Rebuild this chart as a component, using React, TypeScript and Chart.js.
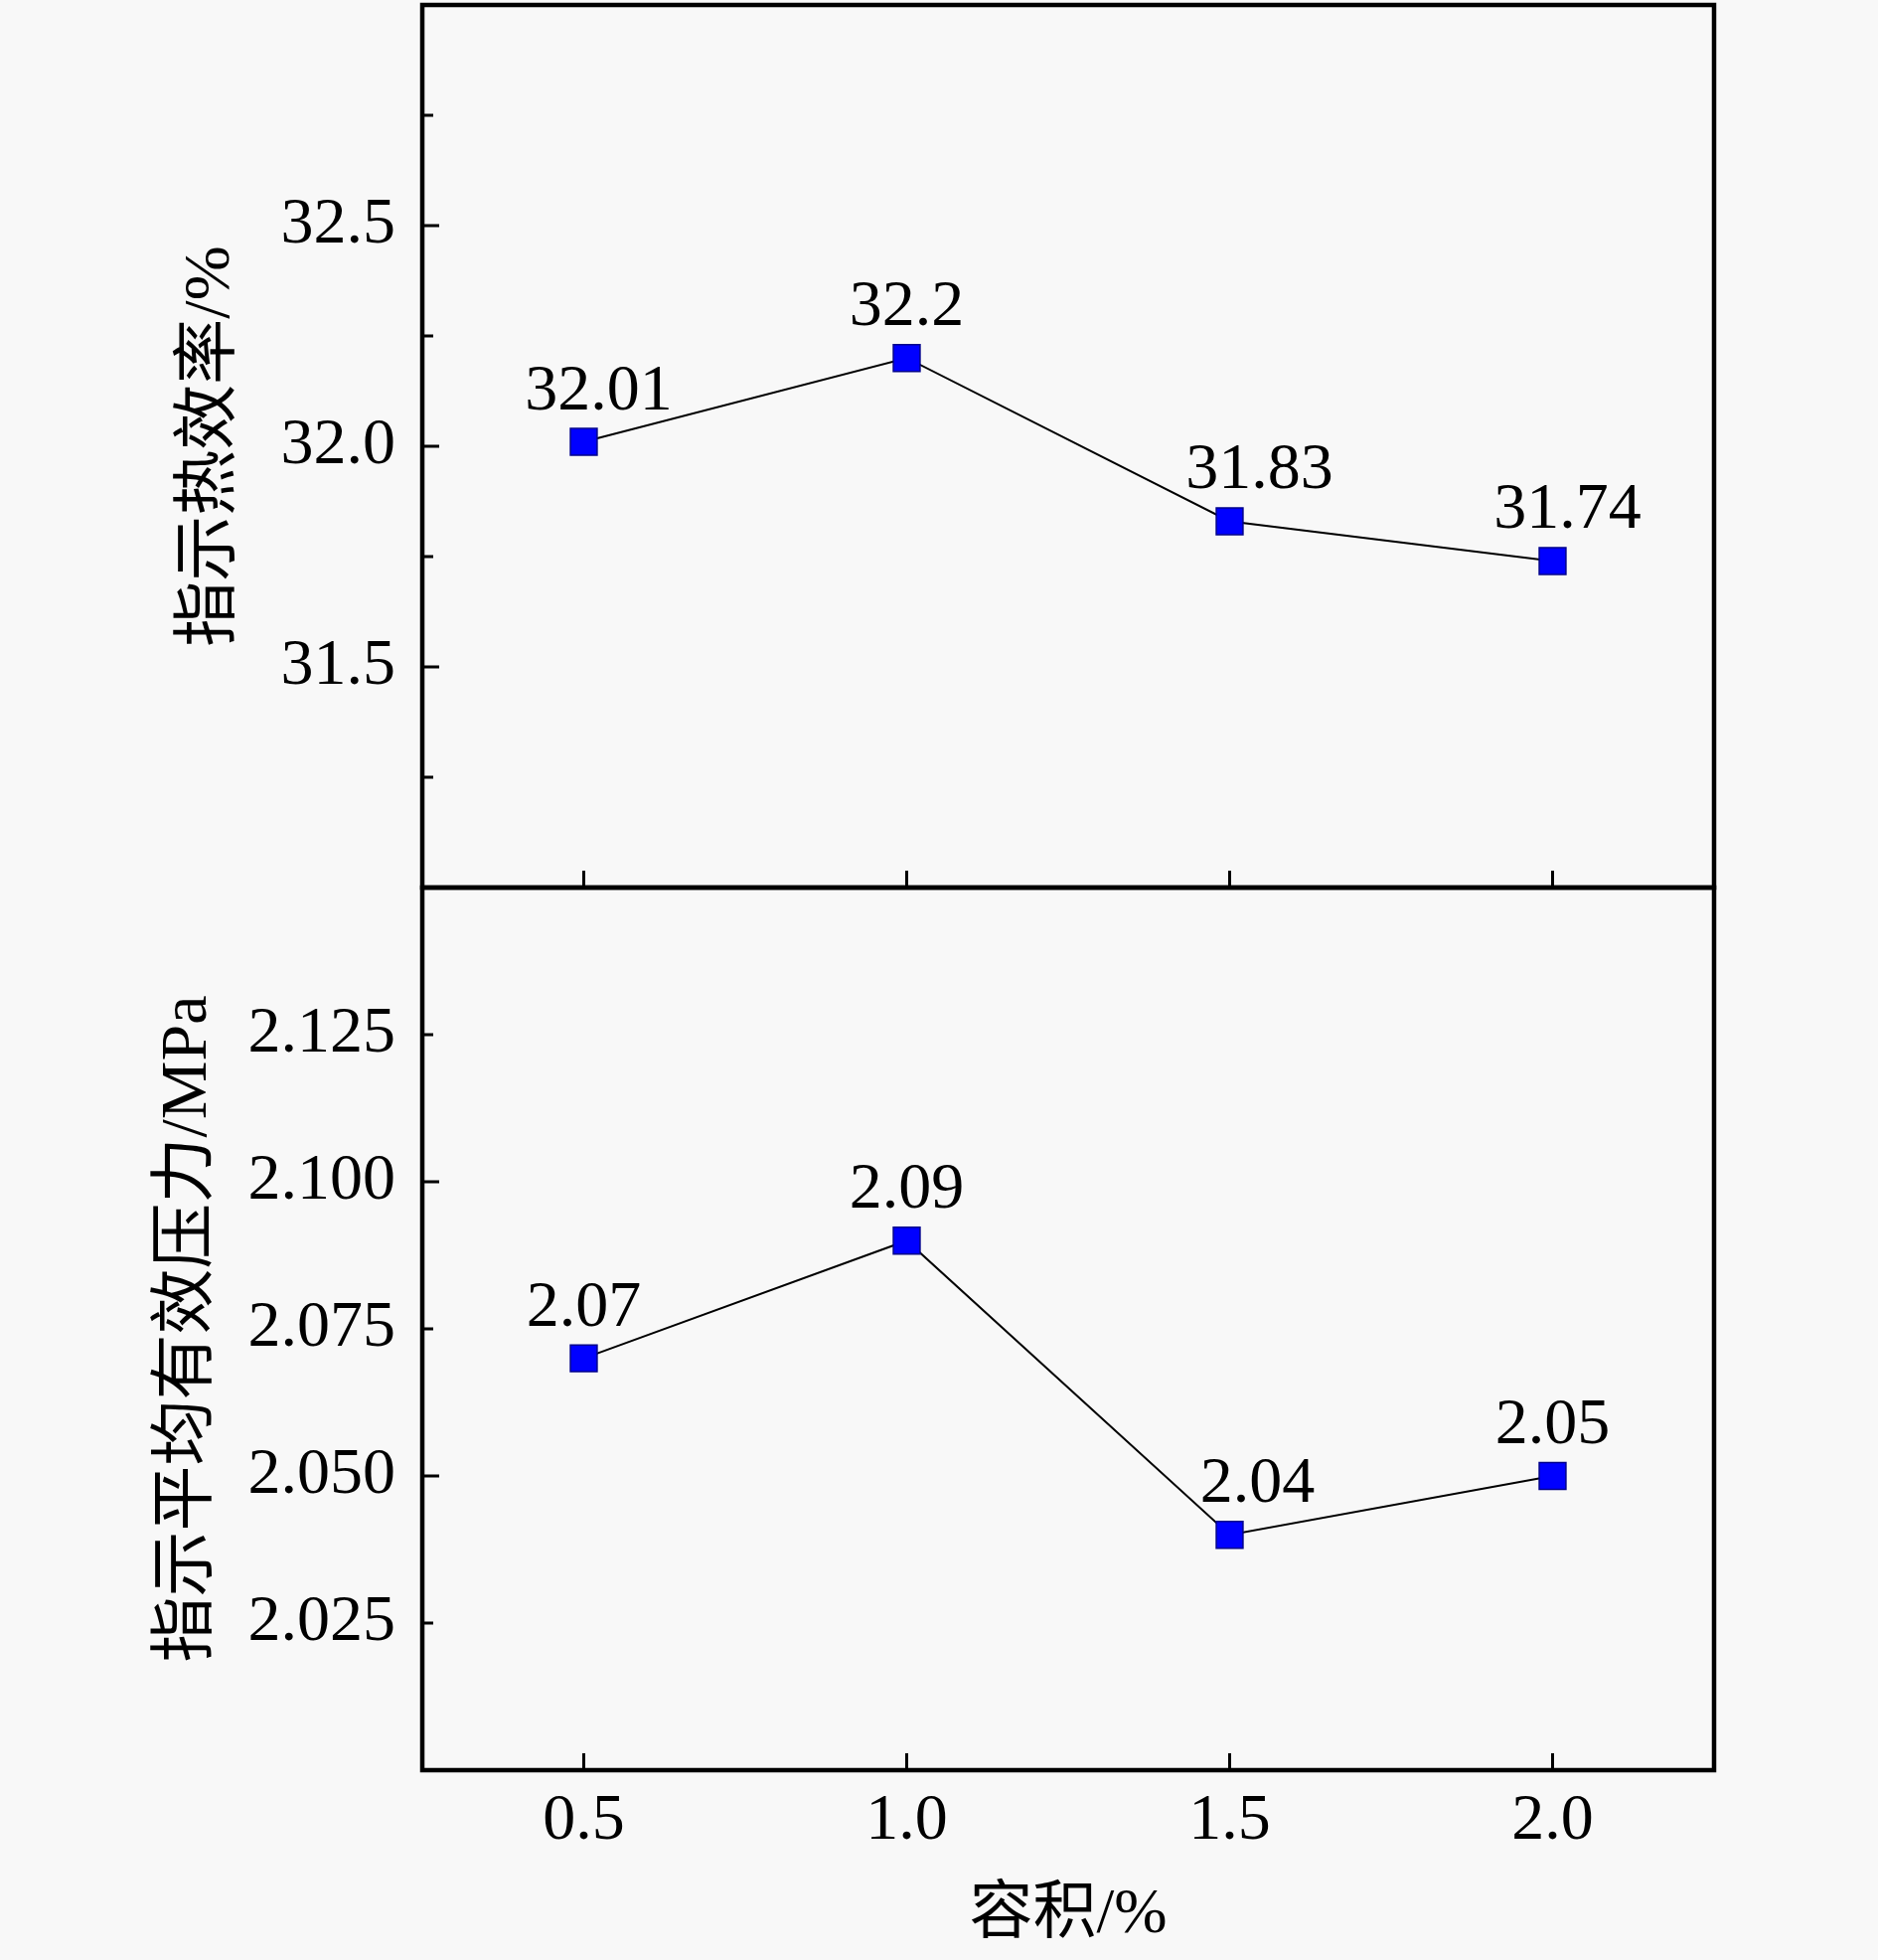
import { useEffect, useRef } from 'react'
import Chart from 'chart.js/auto'

// x: volume share (%)
const volume = [0.5, 1.0, 1.5, 2.0]
// indicated thermal efficiency (%)
const efficiency = [32.01, 32.2, 31.83, 31.74]
// indicated mean effective pressure (MPa)
const pressure = [2.07, 2.09, 2.04, 2.05]

const volumeTicks = [0.5, 1.0, 1.5, 2.0]
const efficiencyTicks = [31.5, 32.0, 32.5]
const efficiencyMajor = [31.5, 32.0, 32.5]
const efficiencyMinor = [31.25, 31.75, 32.25, 32.75]
const pressureTicks = [2.025, 2.05, 2.075, 2.1, 2.125]
const pressureMajor = [2.05, 2.1]
const pressureMinor = [2.025, 2.075, 2.125]

const SERIF = "'Liberation Serif', 'Noto Sans CJK SC', serif"
const W = 1890
const H = 1972
const PLOT_LEFT = 425
const PLOT_RIGHT = 1725
const PLOT_TOP = 5
const PLOT_MID = 893
const PLOT_BOTTOM = 1781
// chart.js keeps room for the point radius at the edges, so the top canvas is pulled up
const SHIFT = 50

// frame + inward tick marks, Origin style
const axisMarks = (major: number[], minor: number[]) => ({
  id: 'axisMarks',
  beforeDatasetsDraw(chart: Chart) {
    const { ctx, chartArea: a, scales } = chart
    const line = (x1: number, y1: number, x2: number, y2: number) => {
      ctx.beginPath()
      ctx.moveTo(x1, y1)
      ctx.lineTo(x2, y2)
      ctx.stroke()
    }
    ctx.save()
    ctx.strokeStyle = '#000'
    ctx.lineWidth = 3
    major.forEach(v => {
      const p = scales.y.getPixelForValue(v)
      line(a.left, p, a.left + 17, p)
    })
    minor.forEach(v => {
      const p = scales.y.getPixelForValue(v)
      line(a.left, p, a.left + 11, p)
    })
    volumeTicks.forEach(v => {
      const p = scales.x.getPixelForValue(v)
      line(p, a.bottom, p, a.bottom - 17)
    })
    ctx.lineWidth = 4.5
    ctx.strokeRect(a.left, a.top, a.right - a.left, a.bottom - a.top)
    ctx.restore()
  }
})

// value labels above the markers; nudge moves a label sideways off the line
const pointLabels = (labels: string[], nudge: number[]) => ({
  id: 'pointLabels',
  afterDatasetsDraw(chart: Chart) {
    const { ctx } = chart
    const meta = chart.getDatasetMeta(0)
    ctx.save()
    ctx.font = `66px ${SERIF}`
    ctx.fillStyle = '#000'
    ctx.textAlign = 'center'
    ctx.textBaseline = 'alphabetic'
    meta.data.forEach((el: any, i) => {
      ctx.fillText(labels[i], el.x + (nudge[i] || 0), el.y - 33)
    })
    ctx.restore()
  }
})

interface PanelSpec {
  values: number[]
  yMin: number
  yMax: number
  yTicks: number[]
  major: number[]
  minor: number[]
  digits: number
  title: string
  titlePad: number
  top: number
  bottom: number
  shift: number
  nudge: number[]
  showX: boolean
}

function buildChart(canvas: HTMLCanvasElement, p: PanelSpec) {
  const xHeight = p.showX ? H - PLOT_BOTTOM : 0
  return new Chart(canvas, {
    type: 'line',
    data: {
      datasets: [{
        data: volume.map((x, i) => ({ x, y: p.values[i] })),
        borderColor: '#000',
        borderWidth: 2,
        pointStyle: 'rect',
        pointRadius: 19,
        pointBackgroundColor: '#0000ff',
        pointBorderColor: '#00008b',
        pointBorderWidth: 1.5,
        tension: 0,
        clip: false
      }]
    },
    options: {
      responsive: true,
      maintainAspectRatio: false,
      animation: false,
      layout: {
        padding: { left: 0, right: W - PLOT_RIGHT, top: p.top + p.shift, bottom: H - p.bottom - xHeight }
      },
      plugins: {
        legend: { display: false },
        tooltip: { enabled: false }
      },
      scales: {
        x: {
          type: 'linear',
          min: 0.25,
          max: 2.25,
          display: p.showX,
          afterFit: (s: any) => {
            s.height = xHeight
            s.paddingLeft = 0
            s.paddingRight = 0
          },
          afterBuildTicks: (s: any) => { s.ticks = volumeTicks.map(value => ({ value })) },
          grid: { display: false, drawTicks: false },
          border: { display: false },
          ticks: {
            autoSkip: false,
            maxRotation: 0,
            padding: 12,
            color: '#000',
            font: { family: SERIF, size: 66 },
            callback: (v: any) => Number(v).toFixed(1)
          },
          title: {
            display: true,
            text: '容积/%',
            color: '#000',
            font: { family: SERIF, size: 64 },
            padding: { top: 0, bottom: 6 }
          }
        },
        y: {
          type: 'linear',
          min: p.yMin,
          max: p.yMax,
          afterFit: (s: any) => {
            s.width = PLOT_LEFT
            s.paddingTop = 0
            s.paddingBottom = 0
          },
          afterBuildTicks: (s: any) => { s.ticks = p.yTicks.map(value => ({ value })) },
          grid: { display: false, drawTicks: false },
          border: { display: false },
          ticks: {
            padding: 27,
            color: '#000',
            font: { family: SERIF, size: 66 },
            callback: (v: any) => Number(v).toFixed(p.digits)
          },
          title: {
            display: true,
            text: p.title,
            color: '#000',
            font: { family: SERIF, size: 66 },
            padding: { top: p.titlePad, bottom: 0 }
          }
        }
      }
    },
    plugins: [axisMarks(p.major, p.minor), pointLabels(p.values.map(v => String(v)), p.nudge)]
  } as any)
}

export default function App() {
  const topRef = useRef<HTMLCanvasElement>(null)
  const bottomRef = useRef<HTMLCanvasElement>(null)

  useEffect(() => {
    if (!topRef.current || !bottomRef.current) return
    const top = buildChart(topRef.current, {
      values: efficiency,
      yMin: 31.0,
      yMax: 33.0,
      yTicks: efficiencyTicks,
      major: efficiencyMajor,
      minor: efficiencyMinor,
      digits: 1,
      title: '指示热效率/%',
      titlePad: 173,
      top: PLOT_TOP,
      bottom: PLOT_MID,
      shift: SHIFT,
      nudge: [15, 0, 30, 15],
      showX: false
    })
    const bottom = buildChart(bottomRef.current, {
      values: pressure,
      yMin: 2.0,
      yMax: 2.15,
      yTicks: pressureTicks,
      major: pressureMajor,
      minor: pressureMinor,
      digits: 3,
      title: '指示平均有效压力/MPa',
      titlePad: 150,
      top: PLOT_MID,
      bottom: PLOT_BOTTOM,
      shift: 0,
      nudge: [0, 0, 28, 0],
      showX: true
    })
    return () => {
      top.destroy()
      bottom.destroy()
    }
  }, [])

  const layer: React.CSSProperties = { position: 'absolute', left: 0, top: 0, width: W, height: H }

  return (
    <div style={{ ...layer, background: '#f8f8f8', overflow: 'hidden' }}>
      <div style={{ ...layer, top: -SHIFT, height: H + SHIFT }}><canvas ref={topRef}></canvas></div>
      <div style={layer}><canvas ref={bottomRef}></canvas></div>
    </div>
  )
}
